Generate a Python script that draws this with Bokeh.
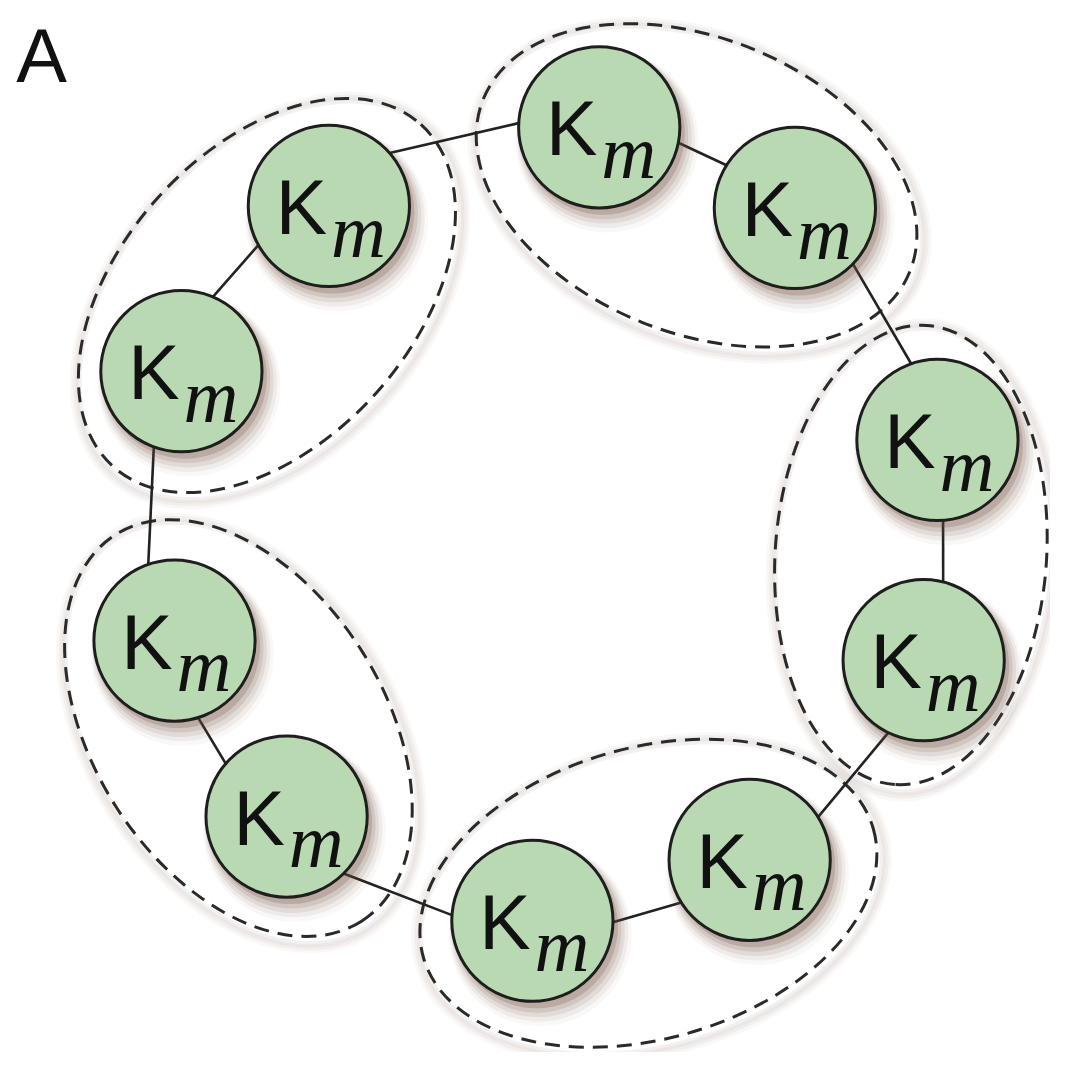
import math
from bokeh.plotting import figure
from bokeh.models import Range1d
from bokeh.core.properties import value
from bokeh.embed import file_html
from bokeh.resources import INLINE

# ---- data (positions, image pixel coordinates) ----
H = 1070
node_x = [605, 804, 949, 935, 758, 537, 287, 173, 180, 330]
node_y_px = [121, 203, 439, 663, 866, 928, 822, 643, 369, 201]
node_label_main = ["K"] * 10
node_label_sub = ["m"] * 10
node_r = 82

# attachment angles (screen degrees) of ring links: node i -> node i+1
link_out_deg = [11, 44, 86, 116, 148, 184, 221, 251, 293, 319]
link_in_deg = [212, 251, 284, 328, 1, 45, 73, 110, 151, 183]

# dimer groups (dashed ellipses)
group_x = [704, 922, 655, 238, 267]
group_y_px = [180, 556, 900, 732, 292]
group_angle_deg = [22, 94, -16, 57.5, -48]
group_semi_major = [234, 234, 238, 233, 234]
group_semi_minor = [150, 138, 148, 148, 149]

panel_label = "A"

# ---- derived ----
node_y = [H - v for v in node_y_px]
group_y = [H - v for v in group_y_px]
group_angle = [-math.radians(a) for a in group_angle_deg]

p = figure(width=1050, height=1052, x_range=Range1d(-4, 1064), y_range=Range1d(8, H + 8),
           output_backend="svg", toolbar_location=None, min_border=0)
p.axis.visible = False
p.grid.visible = False
p.outline_line_color = None
p.background_fill_color = "white"

# ellipse soft shadows
for k, alpha in enumerate([0.10, 0.07, 0.05]):
    p.ellipse(x=[x + 3 for x in group_x], y=[y - 5 for y in group_y],
              width=[2 * a + 6 + 6 * k for a in group_semi_major],
              height=[2 * b + 6 + 6 * k for b in group_semi_minor],
              angle=group_angle, fill_color=None,
              line_color="#8a6f60", line_alpha=alpha, line_width=6)

# dashed ellipses
p.ellipse(x=group_x, y=group_y,
          width=[2 * a for a in group_semi_major],
          height=[2 * b for b in group_semi_minor],
          angle=group_angle, fill_color=None,
          line_color="#2a2a2a", line_width=3, line_dash="15 9")

# ring links
n = len(node_x)
xs, ys = [], []
for i in range(n):
    j = (i + 1) % n
    ao = math.radians(link_out_deg[i])
    ai = math.radians(link_in_deg[i])
    x0 = node_x[i] + node_r * math.cos(ao)
    y0 = node_y_px[i] + node_r * math.sin(ao)
    x1 = node_x[j] + node_r * math.cos(ai)
    y1 = node_y_px[j] + node_r * math.sin(ai)
    xs.append([x0, x1])
    ys.append([H - y0, H - y1])
p.multi_line(xs=xs, ys=ys, line_color="#222222", line_width=2.6)

# node shadows
for k, alpha in enumerate([0.22, 0.14, 0.10, 0.07, 0.04]):
    p.circle(x=[x + 4 + k for x in node_x], y=[y - 6 - 2 * k for y in node_y],
             radius=node_r + 1 + 2.5 * k, fill_color="#6e4a3c", fill_alpha=alpha,
             line_color=None)

# nodes
p.circle(x=node_x, y=node_y, radius=node_r, fill_color="#b8d9b1",
         line_color="#1e1e1e", line_width=3)

# labels
p.text(x=[x - 28 for x in node_x], y=[y - 1 for y in node_y], text=node_label_main,
       text_font=value("Liberation Sans"), text_font_size="77px",
       text_align="center", text_baseline="alphabetic", text_color="#111111")
p.text(x=[x + 30 for x in node_x], y=[y - 25 for y in node_y], text=node_label_sub,
       text_font=value("Liberation Serif"), text_font_style="italic",
       text_font_size="76px", text_align="center", text_baseline="alphabetic",
       text_color="#111111")

p.text(x=[12], y=[H - 48], text=[panel_label], text_font=value("Liberation Sans"),
       text_font_size="76px", text_align="left", text_baseline="alphabetic",
       text_color="#111111")

open("out.html", "w").write(file_html(p, INLINE))
